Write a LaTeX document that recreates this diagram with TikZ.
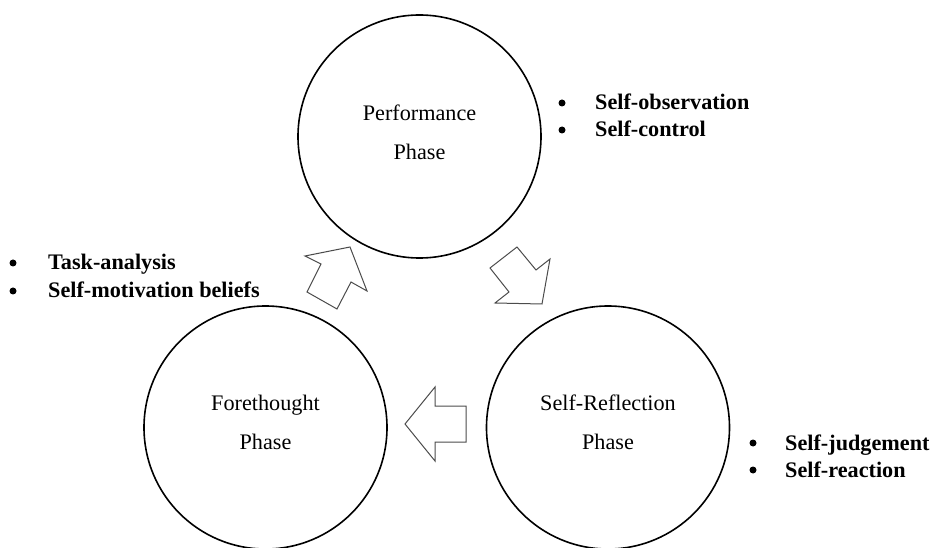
\documentclass[tikz,border=0pt]{standalone}
\usepackage{fontspec}
\setmainfont{Liberation Serif}
\begin{document}
\begin{tikzpicture}[x=1bp,y=-1bp,
  phase/.style={circle,draw,line width=1.6bp,minimum size=243bp,inner sep=0pt},
  phasetext/.style={align=center,font=\fontsize{22.2bp}{39bp}\selectfont,inner sep=0pt},
  item/.style={anchor=base west,inner sep=0pt,font=\fontsize{22.2bp}{28bp}\selectfont\bfseries},
  bul/.style={circle,fill=black,inner sep=0pt,minimum size=7bp},
  blockarrow/.style={draw=black!70,line width=1bp,fill=white,line join=miter}]
\useasboundingbox (0,0) rectangle (935,548);

% phases
\node[phase] (perf) at (419.5,136.5) {};
\node[phase] (fore) at (265.5,427.5) {};
\node[phase] (refl) at (608,427.5) {};
\node[phasetext] (perfT) at ([yshift=4.5bp]perf.center) {Performance\\Phase};
\node[phasetext] (foreT) at ([yshift=5bp]fore.center) {Forethought\\Phase};
\node[phasetext] (reflT) at ([yshift=5bp]refl.center) {Self-Reflection\\Phase};

% block arrows
\draw[blockarrow] (350,247) -- (367,291) -- (351,282) -- (337,309) -- (307,292) -- (321,264) -- (305,256) -- cycle;
\draw[blockarrow] (542,304) -- (495,303) -- (509,292) -- (490,268) -- (517,247) -- (536,270) -- (550,259) -- cycle;
\draw[blockarrow] (405,424) -- (435,387) -- (435,406) -- (466,406) -- (466,442) -- (435,442) -- (435,461) -- cycle;

% bullet lists
\node[bul] (b1) at (562,103) {};
\node[item] (t1) at (595,110) {Self-observation};
\node[bul] (b2) at (562,130) {};
\node[item] (t2) at (595,137) {Self-control};

\node[bul] (b3) at (13,263) {};
\node[item] (t3) at (48,270) {Task-analysis};
\node[bul] (b4) at (13,291) {};
\node[item] (t4) at (48,298) {Self-motivation beliefs};

\node[bul] (b5) at (753,443) {};
\node[item] (t5) at (785,450) {Self-judgement};
\node[bul] (b6) at (753,470) {};
\node[item] (t6) at (785,477) {Self-reaction};
\end{tikzpicture}
\end{document}
